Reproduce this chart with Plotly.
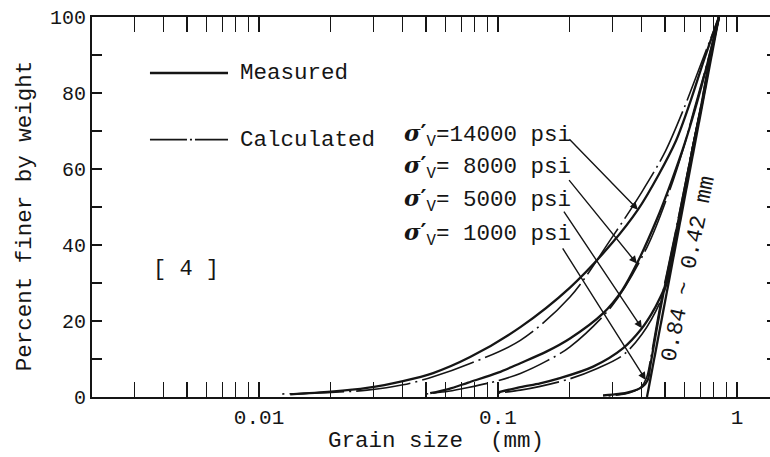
import numpy as np
import plotly.graph_objects as go

# Parent gradation (0.84 ~ 0.42 mm) before loading
parent_size = [0.42, 0.84]
parent_pct = [0, 100]

# sigma'v = 14000 psi
size_14000_meas = [0.0135, 0.0200, 0.0283, 0.0400, 0.0535, 0.0764, 0.124, 0.200, 0.300, 0.385, 0.470, 0.556, 0.640, 0.730, 0.84]
pct_14000_meas = [0.7, 1.4, 2.4, 4.2, 6.3, 10.5, 18.4, 28.8, 40.5, 49.3, 58.5, 67.5, 78.0, 89.0, 100]
size_14000_calc = [0.0125, 0.0200, 0.0283, 0.0400, 0.0535, 0.0764, 0.124, 0.200, 0.300, 0.400, 0.500, 0.600, 0.720, 0.84]
pct_14000_calc = [0.8, 1.2, 1.8, 3.2, 5.3, 8.8, 14.9, 26.3, 42.0, 54.0, 64.5, 76.0, 89.0, 100]

# sigma'v = 8000 psi
size_8000_meas = [0.052, 0.062, 0.075, 0.100, 0.124, 0.160, 0.200, 0.275, 0.330, 0.381, 0.460, 0.530, 0.606, 0.680, 0.757, 0.84]
pct_8000_meas = [1.0, 2.1, 3.8, 6.4, 8.9, 12.0, 15.4, 22.0, 28.0, 35.1, 46.5, 56.5, 67.0, 77.5, 88.5, 100]
size_8000_calc = [0.050, 0.062, 0.075, 0.100, 0.124, 0.160, 0.200, 0.300, 0.420, 0.520, 0.600, 0.660, 0.757, 0.84]
pct_8000_calc = [0.8, 1.5, 2.5, 4.3, 6.2, 9.5, 13.2, 24.0, 39.4, 54.0, 66.0, 75.5, 88.8, 100]

# sigma'v = 5000 psi
size_5000_meas = [0.100, 0.124, 0.150, 0.180, 0.250, 0.333, 0.400, 0.440, 0.477, 0.510, 0.567, 0.650, 0.705, 0.770, 0.84]
pct_5000_meas = [1.2, 2.6, 3.6, 4.9, 8.0, 12.8, 18.1, 22.0, 26.2, 30.5, 45.0, 65.0, 76.0, 89.0, 100]
size_5000_calc = [0.100, 0.124, 0.150, 0.200, 0.260, 0.333, 0.400, 0.477, 0.520, 0.570, 0.648, 0.703, 0.769, 0.84]
pct_5000_calc = [1.0, 1.8, 2.8, 4.8, 7.5, 11.0, 16.5, 25.0, 32.0, 46.0, 65.0, 76.0, 89.0, 100]

# sigma'v = 1000 psi
size_1000_meas = [0.275, 0.320, 0.350, 0.400, 0.423, 0.433, 0.450, 0.474, 0.502, 0.550, 0.650, 0.718, 0.772, 0.84]
pct_1000_meas = [0.4, 0.8, 1.2, 2.6, 4.5, 8.0, 14.0, 22.0, 30.0, 42.0, 65.0, 78.0, 89.0, 100]
size_1000_calc = [0.290, 0.340, 0.370, 0.395, 0.418, 0.435, 0.452, 0.480, 0.510, 0.555, 0.648, 0.716, 0.771, 0.84]
pct_1000_calc = [0.3, 0.8, 1.5, 2.5, 5.0, 10.0, 16.0, 25.0, 33.0, 44.0, 65.0, 78.0, 89.0, 100]

stress_values = ["14000", "\u00a08000", "\u00a05000", "\u00a01000"]

# arrow targets on the measured curves (size, percent)
arrow_size = [0.385, 0.381, 0.400, 0.415]
arrow_pct = [49.3, 35.1, 18.1, 4.5]

x_ticks = [0.005, 0.01, 0.05, 0.1, 0.5, 1]
x_tick_text = ["", "0.01", "", "0.1", "", "1"]
x_minor = [m * 10.0 ** e for e in (-3, -2, -1) for m in (2, 3, 4, 6, 7, 8, 9)]
y_ticks = [0, 20, 40, 60, 80, 100]
y_minor = [10, 30, 50, 70, 90]

INK = "#151515"
MONO = "Liberation Mono, Courier New, monospace"
SOLID_W = 2.3
CALC_W = 1.6
DASHDOT = "2px,5px,55px,5px"

fig = go.Figure()


def curve(x, y, dash=None, width=SOLID_W):
    fig.add_trace(go.Scatter(
        x=x, y=y, mode="lines",
        line=dict(color=INK, width=width, dash=dash, shape="spline", smoothing=0.9),
        hoverinfo="skip", showlegend=False,
    ))


curve(parent_size, parent_pct)
for sm, pm, sc, pc in [
    (size_14000_meas, pct_14000_meas, size_14000_calc, pct_14000_calc),
    (size_8000_meas, pct_8000_meas, size_8000_calc, pct_8000_calc),
    (size_5000_meas, pct_5000_meas, size_5000_calc, pct_5000_calc),
    (size_1000_meas, pct_1000_meas, size_1000_calc, pct_1000_calc),
]:
    curve(sm, pm)
    curve(sc, pc, dash=DASHDOT, width=CALC_W)

# carrier for the right-hand tick marks
fig.add_trace(go.Scatter(x=[], y=[], yaxis="y2", mode="lines", showlegend=False, hoverinfo="skip"))

# legend samples
fig.add_shape(type="line", xref="paper", yref="paper", x0=0.0855, x1=0.2006, y0=0.8526, y1=0.8526,
              line=dict(color=INK, width=SOLID_W))
fig.add_shape(type="line", xref="paper", yref="paper", x0=0.0855, x1=0.2006, y0=0.6774, y1=0.6774,
              line=dict(color=INK, width=CALC_W, dash="37px,3px,2px,3px"))

big = dict(family=MONO, size=22.5, color=INK)
ann = [
    dict(text="Measured", x=0.2153, y=0.8526, xanchor="left", yanchor="middle", font=big),
    dict(text="Calculated", x=0.2153, y=0.6774, xanchor="left", yanchor="middle", font=big),
    dict(text="[\u00a04\u00a0]", x=0.1386, y=0.336, xanchor="center", yanchor="middle",
         font=dict(family=MONO, size=22, color=INK)),
    dict(text="Grain size\u00a0\u00a0(mm)", x=0.508, y=-0.117, xanchor="center", yanchor="middle", font=big),
    dict(text="Percent finer by weight", x=-0.0988, y=0.4755, xanchor="center", yanchor="middle",
         textangle=-90, font=big),
    dict(text="0.84\u00a0~\u00a00.42\u00a0mm", x=0.8805, y=0.3387, xanchor="center", yanchor="middle",
         textangle=-78, font=big),
]

# stress labels: bold italic sigma, prime, subscript V, then the value
sigma_v = ("<span style='font-family:DejaVu Serif'><b><i>σ</i></b></span>"
           "<span style='font-family:DejaVu Sans'><b>′</b></span><sub>V</sub>")
label_y = [0.6887, 0.6032, 0.5163, 0.4268]
for val, ly in zip(stress_values, label_y):
    ann.append(dict(text=sigma_v + "=" + val + "\u00a0psi", x=0.4573, y=ly,
                    xanchor="left", yanchor="middle", font=big))
for a in ann:
    a.update(xref="paper", yref="paper", showarrow=False)

# leader arrows from the labels to the measured curves
tails = [(-70, -72), (-69, -85), (-79, -118), (-84, -133)]
for (ax, ay), xs, ys in zip(tails, arrow_size, arrow_pct):
    ann.append(dict(x=np.log10(xs), y=ys, xref="x", yref="y", ax=ax, ay=ay, text="",
                    showarrow=True, arrowhead=2, arrowsize=1.1, arrowwidth=1.4, arrowcolor=INK,
                    standoff=0, startstandoff=0))

fig.update_layout(
    width=770, height=457,
    margin=dict(l=92, r=0, t=17, b=60),
    paper_bgcolor="white", plot_bgcolor="white",
    showlegend=False,
    font=dict(family=MONO, color=INK, size=20),
    annotations=ann,
    xaxis=dict(
        type="log", range=[np.log10(0.002), np.log10(1.374)],
        tickmode="array", tickvals=x_ticks, ticktext=x_tick_text,
        ticks="inside", ticklen=15, tickwidth=1.6, tickcolor=INK,
        showline=True, linewidth=2, linecolor=INK, mirror="allticks",
        showgrid=False, zeroline=False,
        tickfont=dict(family=MONO, size=21, color=INK),
        minor=dict(tickmode="array", tickvals=x_minor, ticks="inside", ticklen=9,
                   tickwidth=1.4, tickcolor=INK, showgrid=False),
    ),
    yaxis=dict(
        range=[0, 100], tickmode="array", tickvals=y_ticks,
        ticks="inside", ticklen=10, tickwidth=1.6, tickcolor=INK,
        showline=True, linewidth=2, linecolor=INK,
        showgrid=False, zeroline=False,
        tickfont=dict(family=MONO, size=20, color=INK),
        minor=dict(tickmode="array", tickvals=y_minor, ticks="inside", ticklen=10,
                   tickwidth=1.6, tickcolor=INK, showgrid=False),
    ),
    yaxis2=dict(
        overlaying="y", side="right", range=[0, 100], tickmode="array",
        tickvals=[10, 20, 30, 40, 50, 60, 70, 80, 90],
        ticks="inside", ticklen=3, tickwidth=2, tickcolor=INK,
        showticklabels=False, showline=False, showgrid=False, zeroline=False,
    ),
)

fig.write_html("out.html")
